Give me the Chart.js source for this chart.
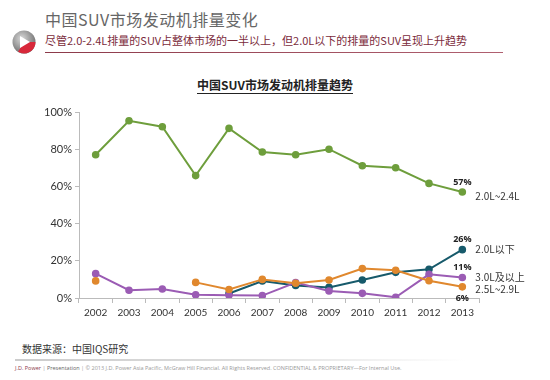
<!DOCTYPE html>
<html>
<head>
<meta charset="utf-8">
<script src="https://cdn.jsdelivr.net/npm/chart.js@4.4.0/dist/chart.umd.min.js"></script>
<style>
  body { margin: 0; width: 550px; height: 380px; background: #fff; position: relative; overflow: hidden;
         font-family: "Noto Sans CJK SC", "Noto Sans", sans-serif; }
  .titulo { position: absolute; left: 45px; top: 7px; font-size: 16px; color: #666; letter-spacing: 0.5px; }
  .subtitulo { position: absolute; left: 45px; top: 32px; font-size: 11px; color: #7b2b3b; }
  .linea { position: absolute; left: 45px; top: 52px; width: 458px; height: 1px;
           background: linear-gradient(to right, #8c3a4a, #b06070); }
  .logo { position: absolute; left: 12px; top: 30px; }
  .grafTitulo { position: absolute; left: 0; width: 550px; top: 76px; text-align: center;
                font-size: 12px; font-weight: bold; color: #222; }
  .grafTitulo span { border-bottom: 1px solid #222; }
  .fuente { position: absolute; left: 22px; top: 341px; font-size: 10px; color: #333; }
  .linea2 { position: absolute; left: 15px; top: 359px; width: 450px; height: 2px;
            background: linear-gradient(to right, #ccc, #ddd, #fff); }
  .pie { position: absolute; left: 15px; top: 364px; font-size: 5.5px; color: #999; font-family: "Open Sans", sans-serif; }
  .pie b { color: #8c3a4a; font-weight: normal; }
  #wrap { position: absolute; left: 0; top: 100px; width: 550px; height: 230px; }
</style>
</head>
<body>
<div class="titulo">中国SUV市场发动机排量变化</div>
<div class="subtitulo">尽管2.0-2.4L排量的SUV占整体市场的一半以上，但2.0L以下的排量的SUV呈现上升趋势</div>
<div class="linea"></div>
<svg class="logo" width="24" height="24" viewBox="0 0 24 24">
  <defs>
    <radialGradient id="g" cx="40%" cy="35%" r="70%">
      <stop offset="0" stop-color="#d8d8d8"/><stop offset="1" stop-color="#6a6a6a"/>
    </radialGradient>
  </defs>
  <circle cx="12" cy="12" r="11.5" fill="url(#g)"/>
  <path d="M12 12 L23.5 12 A11.5 11.5 0 0 1 6 21.8 Z" fill="#d8283a"/>
  <path d="M8 6 L18 12 L8 18 Z" fill="#fff"/>
</svg>
<div class="grafTitulo"><span>中国SUV市场发动机排量趋势</span></div>
<div id="wrap"><canvas id="grafico"></canvas></div>
<div class="fuente">数据来源：中国IQS研究</div>
<div class="linea2"></div>
<div class="pie"><b>J.D. Power</b> | <span style="color:#666">Presentation</span> | © 2013 J.D. Power Asia Pacific, McGraw Hill Financial. All Rights Reserved. CONFIDENTIAL &amp; PROPRIETARY—For Internal Use.</div>

<script>
// DATOS
const anios = ['2002','2003','2004','2005','2006','2007','2008','2009','2010','2011','2012','2013'];
const serie20a24 = [77, 95.3, 92.1, 65.8, 91.2, 78.5, 77, 80, 71.1, 70, 61.6, 57];
const serieMenos20 = [null, null, null, null, 2.4, 9.1, 6.7, 5.7, 9.7, 13.8, 15.4, 26];
const serie30mas = [13.1, 4.2, 4.8, 1.7, 1.5, 1.3, 8.3, 3.8, 2.5, 0.4, 12.7, 11];
const serie25a29 = [9.2, null, null, 8.4, 4.6, 10, 7.9, 9.7, 15.8, 14.9, 9.3, 6];
const nombres = ['2.0L~2.4L', '2.0L以下', '3.0L及以上', '2.5L~2.9L'];
const colores = ['#6e9e3c', '#175a6b', '#9b5cb4', '#e0882e'];

// ETIQUETAS: VALOR DEL ULTIMO PUNTO Y NOMBRE DE LA SERIE A LA DERECHA
const etiquetas = {
  id: 'etiquetas',
  afterDatasetsDraw(chart) {
    const c = chart.ctx;
    const dy = [-10, -10, -10, 12];   //posicion del valor respecto al punto
    const ny = [4, 0, 0, 2];          //posicion del nombre respecto al punto
    c.save();
    chart.data.datasets.forEach((ds, j) => {
      const i = ds.orden;
      const n = ds.data.length - 1;
      const pt = chart.getDatasetMeta(j).data[n];
      c.font = 'bold 9px "Open Sans", sans-serif';
      c.fillStyle = '#222';
      c.textAlign = 'center';
      c.textBaseline = 'middle';
      c.fillText(Math.round(ds.data[n]) + '%', pt.x, pt.y + dy[i]);
      c.font = '10px "Noto Sans CJK SC", sans-serif';
      c.fillStyle = '#333';
      c.textAlign = 'left';
      c.fillText(nombres[i], pt.x + 13, pt.y + ny[i]);
    });
    c.restore();
  }
};

const ctx = document.getElementById('grafico');
const datasets = [serie20a24, serieMenos20, serie30mas, serie25a29].map((d, i) => ({
  label: nombres[i],
  orden: i,
  data: d,
  borderColor: colores[i],
  backgroundColor: colores[i],
  borderWidth: 2,
  pointRadius: 2.8,
  pointHoverRadius: 2.8,
  tension: 0
}));

new Chart(ctx, {
  type: 'line',
  data: { labels: anios, datasets: datasets.reverse() },
  options: {
    responsive: true,
    maintainAspectRatio: false,
    animation: false,
    plugins: { legend: { display: false }, tooltip: { enabled: false } },
    layout: { padding: { left: 0, right: 71, top: 12, bottom: 0 } },
    scales: {
      x: {
        offset: true,
        grid: { display: true, drawOnChartArea: false, offset: true, tickLength: 5, color: '#bbb' },
        border: { color: '#bbb' },
        ticks: { color: '#333', font: { size: 10, family: 'Lato' }, padding: 4 },
        afterFit: s => { s.height = 32; }
      },
      y: {
        min: 0, max: 100,
        grid: { display: true, drawOnChartArea: false, tickLength: 4, color: '#bbb' },
        border: { color: '#bbb' },
        ticks: { stepSize: 20, color: '#333', font: { size: 11, family: 'Lato' }, callback: v => v + '%' },
        afterFit: s => { s.width = 79; }
      }
    }
  },
  plugins: [etiquetas]
});
</script>
</body>
</html>
